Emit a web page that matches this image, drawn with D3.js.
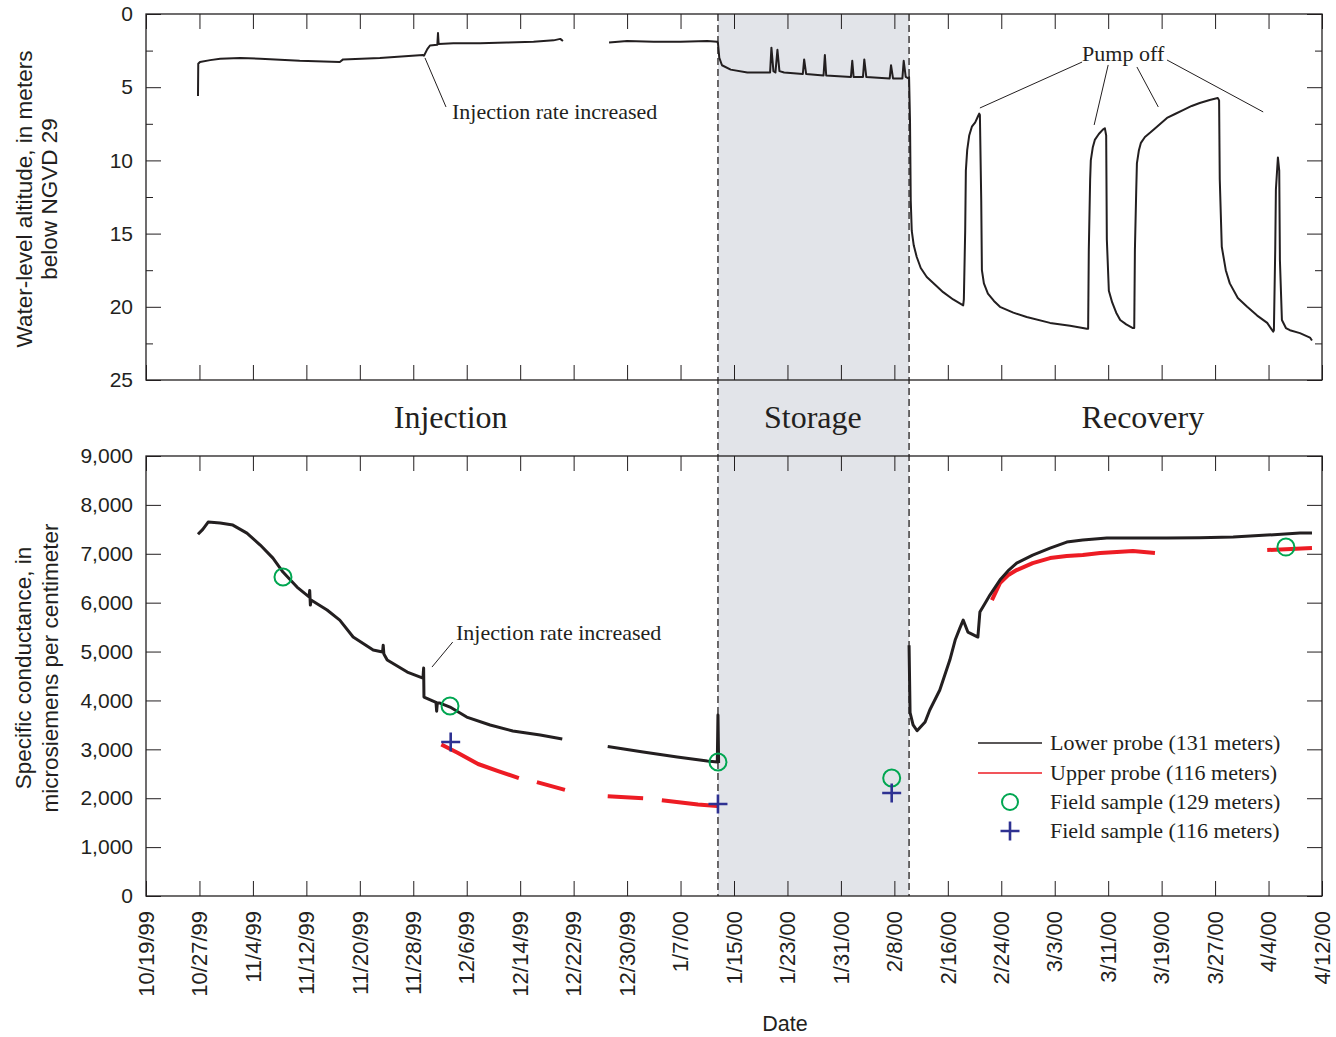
<!DOCTYPE html>
<html>
<head>
<meta charset="utf-8">
<script src="https://cdn.jsdelivr.net/npm/d3@7"></script>
<style>
  body { margin: 0; background: #fff; }
  svg { display: block; }
  .sans { font-family: "Liberation Sans", Arial, Helvetica, sans-serif; }
  .serif { font-family: "Liberation Serif", "Times New Roman", serif; }
</style>
</head>
<body>
<svg id="svg" width="1336" height="1037"></svg>
<script>
// all x values are days after 10/19/99
var waterLevel = [
  [7.78, 5.6], [7.82, 3.4], [8.08, 3.28], [9.6, 3.15], [11.1, 3.05], [14.1, 3.0], [17.1, 3.05],
  [23.0, 3.2], [29.0, 3.28], [29.5, 3.1], [35.0, 3.0], [41.45, 2.8], [41.6, 2.85], [42.1, 2.4],
  [42.5, 2.15], [43.6, 2.1], [43.7, 1.3], [43.8, 2.05], [46, 2.0], [50, 2.0], [54, 1.95],
  [58, 1.9], [61, 1.8], [62, 1.7], [62.4, 1.85], [62.5, null],
  [69.3, 1.95], [72, 1.85], [76, 1.9], [80, 1.9], [84, 1.85], [85.5, 1.9], [85.6, 2.0],
  [85.8, 3.0], [86.2, 3.5], [87.5, 3.8], [90, 4.0], [93.4, 4.0], [93.6, 2.3], [93.9, 3.9],
  [94.2, 4.0], [94.5, 2.45], [94.8, 3.9], [95.5, 4.0], [98.3, 4.1], [98.5, 3.1], [98.8, 4.1],
  [101.4, 4.2], [101.6, 2.8], [101.8, 4.2], [105.5, 4.3], [105.7, 3.2], [105.9, 4.3],
  [107.3, 4.3], [107.5, 3.1], [107.8, 4.3], [111.3, 4.4], [111.5, 3.5], [111.8, 4.4],
  [113.2, 4.4], [113.4, 3.2], [113.7, 4.3], [114.1, 4.4], [114.2, 4.3],
  [114.34, 7.24], [114.45, 12.7], [114.6, 14.8], [114.9, 15.8], [115.35, 16.6], [115.95, 17.35],
  [116.85, 17.96], [118.1, 18.5], [119.3, 19.0], [120.8, 19.5], [122.3, 19.9],
  [122.4, 19.5], [122.6, 14.8], [122.7, 10.7], [122.9, 9.3], [123.2, 8.3], [123.6, 7.7],
  [124.1, 7.4], [124.5, 7.0], [124.7, 6.8], [124.8, 6.9],
  [125.0, 12.7], [125.1, 17.5], [125.4, 18.4], [126.0, 19.1], [126.9, 19.6], [127.8, 20.0],
  [129.8, 20.4], [131.8, 20.7], [135.3, 21.1], [138.3, 21.3], [140.2, 21.45], [140.8, 21.5],
  [141.0, 21.5], [141.1, 16.1], [141.3, 11.3], [141.4, 10.0], [141.7, 9.1], [142.0, 8.6],
  [142.6, 8.2], [143.2, 7.9], [143.5, 7.8],
  [143.7, 8.3], [143.8, 15.4], [144.1, 18.9], [144.6, 19.7], [145.2, 20.4], [145.8, 20.9],
  [146.7, 21.2], [147.7, 21.45],
  [147.9, 21.45], [148.0, 16.1], [148.2, 12.0], [148.3, 10.2], [148.6, 9.3], [148.9, 8.8],
  [149.5, 8.4], [150.3, 8.1], [151.3, 7.7], [152.8, 7.1], [154.0, 6.83], [155.2, 6.56],
  [156.5, 6.28], [157.7, 6.08], [159.2, 5.87], [160.4, 5.74],
  [160.6, 5.9], [160.7, 11.3], [161.0, 15.9], [161.6, 17.5], [162.2, 18.4], [163.4, 19.4],
  [164.8, 20.0], [166.3, 20.6], [167.8, 21.1], [168.7, 21.7],
  [168.8, 21.6], [169.0, 16.1], [169.1, 12.0], [169.4, 9.8],
  [169.6, 10.7], [169.7, 16.8], [170.0, 20.9], [170.6, 21.45], [171.2, 21.6], [172.7, 21.8],
  [174.2, 22.1], [174.5, 22.3]
];

var lowerProbe = [
  [7.78, 7400], [8.5, 7500], [9.3, 7648], [11.1, 7628], [13.0, 7587], [15.1, 7423],
  [17.1, 7178], [19.0, 6912], [20.5, 6626], [22.6, 6319], [24.4, 6120], [24.5, 6250],
  [24.6, 5950], [24.7, 6053], [27.1, 5849], [29.0, 5644], [31.0, 5297], [34.0, 5031],
  [35.4, 4990], [35.5, 5130], [35.6, 4950], [36.1, 4826], [39.1, 4581], [41.45, 4458],
  [41.55, 4663], [41.6, 4070], [43.4, 3960], [43.5, 3780], [43.6, 3950], [44.0, 3947],
  [45.5, 3865], [48.0, 3660], [51.5, 3497], [54.9, 3374], [59.0, 3292], [62.3, 3210],
  [62.4, null],
  [69.1, 3060], [74.4, 2945], [79.5, 2843], [84.0, 2760], [85.5, 2740], [85.6, 3701],
  [85.7, 2720], [85.8, null],
  [114.2, 5130], [114.35, 3750], [114.8, 3500], [115.4, 3380], [116.6, 3558], [117.3, 3804],
  [118.8, 4213], [120.3, 4826], [121.1, 5235], [121.8, 5480], [122.3, 5644], [123.0, 5399],
  [124.5, 5297], [124.8, 5808], [125.6, 5992], [126.3, 6155], [127.8, 6462], [129.0, 6650],
  [130.3, 6810], [132.7, 6973], [135.3, 7117], [137.8, 7239], [140.2, 7280],
  [143.8, 7321], [147.7, 7321], [152.8, 7321], [157.7, 7330], [162.7, 7342], [167.8, 7382],
  [172.7, 7423], [174.5, 7423]
];

var upperProbe = [
  [44.2, 3100], [46.7, 2924], [49.7, 2700], [52.7, 2556], [55.8, 2413], [55.9, null],
  [58.5, 2330], [62.7, 2170], [62.8, null],
  [69.1, 2040], [74.4, 2000], [74.5, null],
  [77.2, 1960], [82.6, 1870], [85.5, 1840], [85.6, null],
  [126.6, 6053], [127.8, 6401], [129.0, 6560], [130.3, 6667], [132.7, 6810], [135.3, 6912],
  [137.8, 6953], [140.2, 6973], [142.8, 7014], [145.3, 7035], [147.7, 7055], [151.0, 7014],
  [151.1, null],
  [167.8, 7076], [174.5, 7117]
];

var sample129 = [[20.5, 6524], [45.5, 3885], [85.6, 2740], [111.6, 2413], [170.6, 7137]];
var sample116 = [[45.6, 3149], [85.6, 1881], [111.6, 2106]];

var storagePeriod = [85.6, 114.2];
var phaseLabels = ['Injection', 'Storage', 'Recovery'];
var topTicks = [0, 5, 10, 15, 20, 25];
var topMinorTicks = [2.5, 7.5, 12.5, 17.5, 22.5];
var bottomTicks = [0, 1000, 2000, 3000, 4000, 5000, 6000, 7000, 8000, 9000];
var legendLabels = ['Lower probe (131 meters)', 'Upper probe (116 meters)',
                    'Field sample (129 meters)', 'Field sample (116 meters)'];

var ink = '#231f20';
var red = '#ed1c24';
var green = '#00a651';
var blue = '#2e3192';

var svg = d3.select('#svg');
var startDate = new Date(Date.UTC(1999, 9, 19));
var endDate = new Date(Date.UTC(2000, 3, 12));
function toDate(day) { return new Date(startDate.getTime() + day * 864e5); }

var left = 146, right = 1322;
var x = d3.scaleUtc().domain([startDate, endDate]).range([left, right]);
var yTop = d3.scaleLinear().domain([0, 25]).range([14, 380]);
var yBot = d3.scaleLinear().domain([0, 9000]).range([896, 456]);

var dateTicks = d3.range(0, 177, 8).map(function(d) { return d3.utcDay.offset(startDate, d); });
var fmt = d3.utcFormat('%-m/%-d/%y');

drawShading();
drawPanel(yTop, topTicks, topMinorTicks, d3.format('d'));
drawPanel(yBot, bottomTicks, [], d3.format(','));
drawXLabels();
drawTitles();
drawSeries();
drawAnnotations();
drawLegend();

function drawShading() {
  svg.append('rect')
    .attr('x', x(toDate(storagePeriod[0])))
    .attr('y', yTop(0))
    .attr('width', x(toDate(storagePeriod[1])) - x(toDate(storagePeriod[0])))
    .attr('height', yBot(0) - yTop(0))
    .attr('fill', '#e2e4e9');

  storagePeriod.forEach(function(d) {
    svg.append('line')
      .attr('x1', x(toDate(d))).attr('x2', x(toDate(d)))
      .attr('y1', yTop(0)).attr('y2', yBot(0))
      .attr('stroke', ink).attr('stroke-width', 1.3)
      .attr('stroke-dasharray', '7,4');
  });
}

function drawPanel(y, ticks, minor, format) {
  var r = y.range();
  var top = Math.min(r[0], r[1]), bottom = Math.max(r[0], r[1]);

  var g = svg.append('g').attr('class', 'sans');

  // x ticks, inward on top and bottom
  g.append('g').attr('transform', 'translate(0,' + top + ')')
    .call(d3.axisTop(x).tickValues(dateTicks).tickSize(-15).tickFormat(''));
  g.append('g').attr('transform', 'translate(0,' + bottom + ')')
    .call(d3.axisBottom(x).tickValues(dateTicks).tickSize(-15).tickFormat(''));

  // y ticks, labelled on the left
  g.append('g').attr('transform', 'translate(' + left + ',0)')
    .call(d3.axisLeft(y).tickValues(ticks).tickSize(-15).tickPadding(13).tickFormat(format));
  g.append('g').attr('transform', 'translate(' + right + ',0)')
    .call(d3.axisRight(y).tickValues(ticks).tickSize(-15).tickFormat(''));

  if (minor.length) {
    g.append('g').attr('transform', 'translate(' + left + ',0)')
      .call(d3.axisLeft(y).tickValues(minor).tickSize(-7).tickFormat(''));
    g.append('g').attr('transform', 'translate(' + right + ',0)')
      .call(d3.axisRight(y).tickValues(minor).tickSize(-7).tickFormat(''));
  }

  g.selectAll('.domain').remove();
  g.selectAll('.tick line').attr('stroke', ink).attr('stroke-width', 1);
  g.selectAll('.tick text').attr('fill', ink).style('font-size', '21px');

  g.append('rect')
    .attr('x', left).attr('y', top)
    .attr('width', right - left).attr('height', bottom - top)
    .attr('fill', 'none').attr('stroke', ink).attr('stroke-width', 1.3);
}

function drawXLabels() {
  svg.append('g').attr('class', 'sans')
    .selectAll('text')
    .data(dateTicks)
    .enter()
    .append('text')
    .attr('transform', function(d) { return 'translate(' + x(d) + ',' + (yBot(0) + 15) + ') rotate(-90)'; })
    .attr('text-anchor', 'end')
    .attr('dy', '0.35em')
    .attr('fill', ink)
    .style('font-size', '22px')
    .text(fmt);
}

function drawTitles() {
  var t = svg.append('g').attr('class', 'sans').attr('fill', ink).style('font-size', '22.5px');

  function vtext(cx, cy, str) {
    t.append('text')
      .attr('transform', 'translate(' + cx + ',' + cy + ') rotate(-90)')
      .attr('text-anchor', 'middle')
      .attr('dy', '0.35em')
      .text(str);
  }
  vtext(24, 199, 'Water-level altitude, in meters');
  vtext(49, 199, 'below NGVD 29');
  vtext(23, 668, 'Specific conductance, in');
  vtext(50, 668, 'microsiemens per centimeter');

  t.append('text')
    .attr('x', 785).attr('y', 1031)
    .attr('text-anchor', 'middle')
    .style('font-size', '21.5px')
    .text('Date');

  // phase names in the gap between panels
  var phaseX = [45.6, 99.8, 149.2];
  svg.append('g').attr('class', 'serif')
    .selectAll('text')
    .data(phaseLabels)
    .enter()
    .append('text')
    .attr('x', function(d, i) { return x(toDate(phaseX[i])); })
    .attr('y', 428)
    .attr('text-anchor', 'middle')
    .attr('fill', ink)
    .style('font-size', '32px')
    .text(function(d) { return d; });
}

function drawSeries() {
  var lineTop = d3.line()
    .defined(function(d) { return d[1] != null; })
    .x(function(d) { return x(toDate(d[0])); })
    .y(function(d) { return yTop(d[1]); });

  var lineBot = d3.line()
    .defined(function(d) { return d[1] != null; })
    .x(function(d) { return x(toDate(d[0])); })
    .y(function(d) { return yBot(d[1]); });

  svg.append('path')
    .datum(waterLevel)
    .attr('d', lineTop)
    .attr('fill', 'none')
    .attr('stroke', ink)
    .attr('stroke-width', 2)
    .attr('stroke-linejoin', 'round');

  svg.append('path')
    .datum(upperProbe)
    .attr('d', lineBot)
    .attr('fill', 'none')
    .attr('stroke', red)
    .attr('stroke-width', 4)
    .attr('stroke-linejoin', 'round');

  svg.append('path')
    .datum(lowerProbe)
    .attr('d', lineBot)
    .attr('fill', 'none')
    .attr('stroke', ink)
    .attr('stroke-width', 3)
    .attr('stroke-linejoin', 'round');

  svg.append('g')
    .selectAll('circle')
    .data(sample129)
    .enter()
    .append('circle')
    .attr('cx', function(d) { return x(toDate(d[0])); })
    .attr('cy', function(d) { return yBot(d[1]); })
    .attr('r', 8.5)
    .attr('fill', 'none')
    .attr('stroke', green)
    .attr('stroke-width', 2);

  svg.append('g')
    .selectAll('path')
    .data(sample116)
    .enter()
    .append('path')
    .attr('transform', function(d) { return 'translate(' + x(toDate(d[0])) + ',' + yBot(d[1]) + ')'; })
    .attr('d', 'M-9.5,0H9.5M0,-9.5V9.5')
    .attr('stroke', blue)
    .attr('stroke-width', 2.6);
}

function drawAnnotations() {
  var a = svg.append('g').attr('class', 'serif').attr('fill', ink).style('font-size', '22px');

  function leader(y, d1, v1, d2, v2) {
    a.append('line')
      .attr('x1', x(toDate(d1))).attr('y1', y(v1))
      .attr('x2', x(toDate(d2))).attr('y2', y(v2))
      .attr('stroke', ink).attr('stroke-width', 1);
  }

  leader(yTop, 41.75, 3.0, 44.9, 6.35);
  a.append('text').attr('x', x(toDate(45.8))).attr('y', 119).text('Injection rate increased');

  leader(yBot, 45.9, 5194, 42.8, 4683);
  a.append('text').attr('x', x(toDate(46.4))).attr('y', 640).text('Injection rate increased');

  a.append('text').attr('x', x(toDate(140.1))).attr('y', 61).text('Pump off');
  leader(yTop, 140.1, 3.28, 124.8, 6.42);
  leader(yTop, 144.0, 3.48, 141.9, 7.58);
  leader(yTop, 148.3, 3.62, 151.5, 6.35);
  leader(yTop, 152.8, 3.14, 167.2, 6.69);
}

function drawLegend() {
  var g = svg.append('g').attr('class', 'serif');
  var rowY = [743, 773, 802, 831];

  g.append('line').attr('x1', 978).attr('x2', 1042).attr('y1', rowY[0]).attr('y2', rowY[0])
    .attr('stroke', ink).attr('stroke-width', 1.5);
  g.append('line').attr('x1', 978).attr('x2', 1042).attr('y1', rowY[1]).attr('y2', rowY[1])
    .attr('stroke', red).attr('stroke-width', 1.5);
  g.append('circle').attr('cx', 1010).attr('cy', rowY[2]).attr('r', 8)
    .attr('fill', 'none').attr('stroke', green).attr('stroke-width', 2);
  g.append('path').attr('transform', 'translate(1010,' + rowY[3] + ')')
    .attr('d', 'M-9.5,0H9.5M0,-9.5V9.5')
    .attr('stroke', blue).attr('stroke-width', 2.6);

  g.selectAll('text')
    .data(legendLabels)
    .enter()
    .append('text')
    .attr('x', 1050)
    .attr('y', function(d, i) { return rowY[i]; })
    .attr('dy', '0.33em')
    .attr('fill', ink)
    .style('font-size', '22px')
    .text(function(d) { return d; });
}
</script>
</body>
</html>
